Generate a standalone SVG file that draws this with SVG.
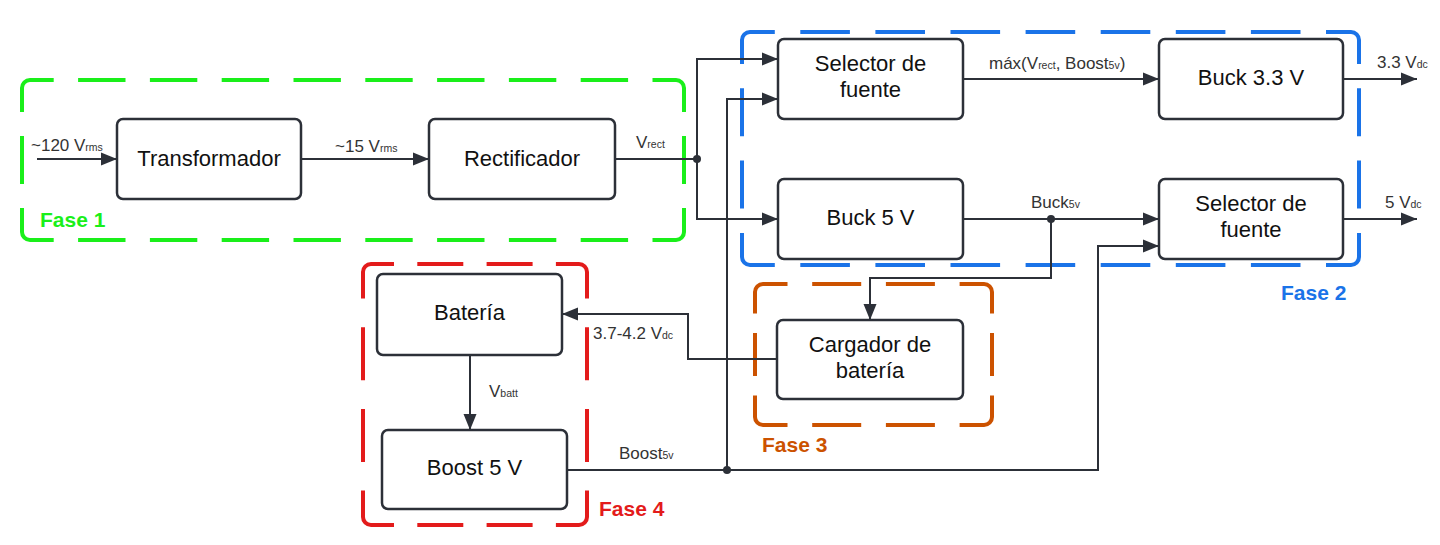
<svg xmlns="http://www.w3.org/2000/svg" width="1440" height="545" viewBox="0 0 1440 545">
<defs>
<marker id="arr" markerUnits="userSpaceOnUse" markerWidth="17" markerHeight="14" refX="16" refY="7" orient="auto">
<path d="M0,0.5 L16,7 L0,13.5 z" fill="#2c3038"/>
</marker>
<style>
.node rect{fill:#fff;stroke:#2c3038;stroke-width:2.5}
.node text{font-family:"Liberation Sans",Arial,sans-serif;font-size:22px;fill:#111;text-anchor:middle}
.conn path{fill:none;stroke:#2c3038;stroke-width:2}
.conn circle{fill:#2c3038}
.lbl{font-family:"Liberation Sans",Arial,sans-serif;font-size:17px;fill:#333}
.sub{font-size:10.5px}
.ph path,.ph line{fill:none;stroke-width:4;stroke-linecap:butt}
.g1{stroke:#1aef1a}.g2{stroke:#1a73e8}.g3{stroke:#cc5200}.g4{stroke:#e31b1b}
.ptxt{font-family:"Liberation Sans",Arial,sans-serif;font-size:21px;font-weight:bold}
</style>
</defs>
<rect width="1440" height="545" fill="#fff"/>

<g id="fase1" class="ph g1">
<path d="M22,88 A8,8 0 0 1 30,80 M676,80 A8,8 0 0 1 684,88 M684,232 A8,8 0 0 1 676,240 M30,240 A8,8 0 0 1 22,232"/>
<line x1="30" y1="80" x2="676" y2="80" stroke-dasharray="47.4 24.4" stroke-dashoffset="23.7"/>
<line x1="30" y1="240" x2="676" y2="240" stroke-dasharray="47.4 24.4" stroke-dashoffset="23.7"/>
<line x1="22" y1="88" x2="22" y2="232" stroke-dasharray="48 24" stroke-dashoffset="24"/>
<line x1="684" y1="88" x2="684" y2="232" stroke-dasharray="48 24" stroke-dashoffset="24"/>
<text class="ptxt" x="40" y="227" fill="#1aef1a" stroke="none">Fase 1</text>
</g>

<g id="fase2" class="ph g2">
<path d="M742,40 A8,8 0 0 1 750,32 M1351,32 A8,8 0 0 1 1359,40 M1359,257 A8,8 0 0 1 1351,265 M750,265 A8,8 0 0 1 742,257"/>
<line x1="750" y1="32" x2="1351" y2="32" stroke-dasharray="49.6 25.5" stroke-dashoffset="24.8"/>
<line x1="750" y1="265" x2="1351" y2="265" stroke-dasharray="49.6 25.5" stroke-dashoffset="24.8"/>
<line x1="742" y1="40" x2="742" y2="257" stroke-dasharray="48 24.3" stroke-dashoffset="24"/>
<line x1="1359" y1="40" x2="1359" y2="257" stroke-dasharray="48 24.3" stroke-dashoffset="24"/>
<text class="ptxt" x="1281" y="300" fill="#1a73e8" stroke="none">Fase 2</text>
</g>

<g id="fase3" class="ph g3">
<path d="M755,292 A8,8 0 0 1 763,284 M984,284 A8,8 0 0 1 992,292 M992,417 A8,8 0 0 1 984,425 M763,425 A8,8 0 0 1 755,417"/>
<line x1="763" y1="284" x2="984" y2="284" stroke-dasharray="49 24.7" stroke-dashoffset="24.5"/>
<line x1="763" y1="425" x2="984" y2="425" stroke-dasharray="49 24.7" stroke-dashoffset="24.5"/>
<line x1="755" y1="292" x2="755" y2="417" stroke-dasharray="43 19.5" stroke-dashoffset="21.5"/>
<line x1="992" y1="292" x2="992" y2="417" stroke-dasharray="43 19.5" stroke-dashoffset="21.5"/>
<text class="ptxt" x="762" y="452" fill="#cc5200" stroke="none">Fase 3</text>
</g>

<g id="fase4" class="ph g4">
<path d="M363,272 A8,8 0 0 1 371,264 M579,264 A8,8 0 0 1 587,272 M587,517 A8,8 0 0 1 579,525 M371,525 A8,8 0 0 1 363,517"/>
<line x1="371" y1="264" x2="579" y2="264" stroke-dasharray="46 23.3" stroke-dashoffset="23"/>
<line x1="371" y1="525" x2="579" y2="525" stroke-dasharray="46 23.3" stroke-dashoffset="23"/>
<line x1="363" y1="272" x2="363" y2="517" stroke-dasharray="53 28.7" stroke-dashoffset="26.5"/>
<line x1="587" y1="272" x2="587" y2="517" stroke-dasharray="53 28.7" stroke-dashoffset="26.5"/>
<text class="ptxt" x="599" y="516" fill="#e31b1b" stroke="none">Fase 4</text>
</g>

<g id="connectors" class="conn">
<path d="M37,159 H117" marker-end="url(#arr)"/>
<path d="M301,159 H429" marker-end="url(#arr)"/>
<path d="M615,159 H697"/>
<path d="M697,159 V59 H778" marker-end="url(#arr)"/>
<path d="M697,159 V219 H778" marker-end="url(#arr)"/>
<path d="M963,79 H1159" marker-end="url(#arr)"/>
<path d="M1343,79 H1417" marker-end="url(#arr)"/>
<path d="M963,219 H1159" marker-end="url(#arr)"/>
<path d="M1051,219 V278 H870 V320" marker-end="url(#arr)"/>
<path d="M1343,219 H1417" marker-end="url(#arr)"/>
<path d="M778,359 H688 V314 H562" marker-end="url(#arr)"/>
<path d="M470,355 V430" marker-end="url(#arr)"/>
<path d="M567,470 H1098 V246 H1159" marker-end="url(#arr)"/>
<path d="M727,470 V99 H778" marker-end="url(#arr)"/>
<circle cx="697" cy="159" r="4"/>
<circle cx="1051" cy="219" r="4"/>
<circle cx="727" cy="470" r="4"/>
</g>

<g id="labels">
<text class="lbl" x="31" y="151">~120 V<tspan class="sub">rms</tspan></text>
<text class="lbl" x="335" y="152">~15 V<tspan class="sub">rms</tspan></text>
<text class="lbl" x="636" y="148">V<tspan class="sub">rect</tspan></text>
<text class="lbl" x="989" y="69">máx(V<tspan class="sub">rect</tspan>, Boost<tspan class="sub">5v</tspan>)</text>
<text class="lbl" x="1377" y="68">3.3 V<tspan class="sub">dc</tspan></text>
<text class="lbl" x="1031" y="208">Buck<tspan class="sub">5v</tspan></text>
<text class="lbl" x="1385" y="208">5 V<tspan class="sub">dc</tspan></text>
<text class="lbl" x="593" y="339">3.7-4.2 V<tspan class="sub">dc</tspan></text>
<text class="lbl" x="489" y="397">V<tspan class="sub">batt</tspan></text>
<text class="lbl" x="619" y="459">Boost<tspan class="sub">5v</tspan></text>
</g>

<g id="n-transformador" class="node"><rect x="117" y="119" width="184" height="80" rx="6"/><text x="209" y="166">Transformador</text></g>
<g id="n-rectificador" class="node"><rect x="429" y="119" width="186" height="80" rx="6"/><text x="522" y="166">Rectificador</text></g>
<g id="n-selector1" class="node"><rect x="778" y="39" width="185" height="80" rx="6"/><text x="870.5" y="71">Selector de</text><text x="870.5" y="97">fuente</text></g>
<g id="n-buck33" class="node"><rect x="1159" y="39" width="184" height="80" rx="6"/><text x="1251" y="85">Buck 3.3 V</text></g>
<g id="n-buck5" class="node"><rect x="778" y="179" width="185" height="80" rx="6"/><text x="870.5" y="225">Buck 5 V</text></g>
<g id="n-selector2" class="node"><rect x="1159" y="179" width="184" height="80" rx="6"/><text x="1251" y="211">Selector de</text><text x="1251" y="237">fuente</text></g>
<g id="n-bateria" class="node"><rect x="377" y="274" width="185" height="81" rx="6"/><text x="469.5" y="320">Batería</text></g>
<g id="n-boost" class="node"><rect x="382" y="430" width="185" height="79" rx="6"/><text x="474.5" y="475">Boost 5 V</text></g>
<g id="n-cargador" class="node"><rect x="777" y="320" width="186" height="79" rx="6"/><text x="870" y="352">Cargador de</text><text x="870" y="378">batería</text></g>
</svg>
